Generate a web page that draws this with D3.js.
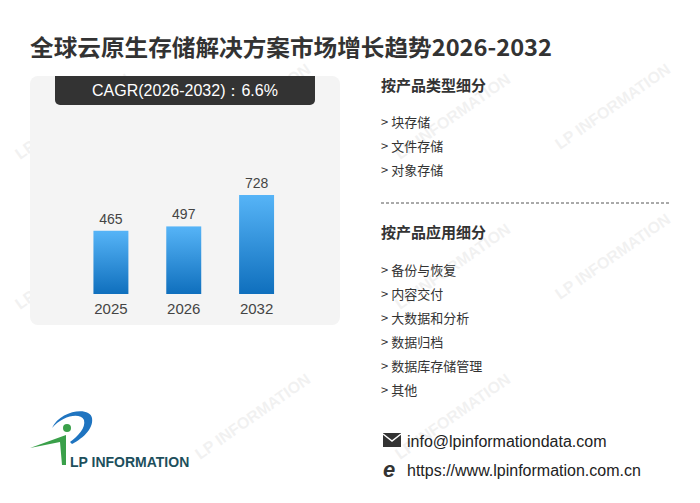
<!DOCTYPE html>
<html><head><meta charset="utf-8">
<script src="https://cdn.jsdelivr.net/npm/d3@7"></script>
<style>body{margin:0;background:#fff;font-family:"Noto Sans CJK SC","Noto Sans",sans-serif}</style>
</head><body><svg id="c" width="700" height="503"></svg>
<script>
const years=["2025","2026","2032"];
const values=[465,497,728];
const typeItems=["块存储","文件存储","对象存储"];
const appItems=["备份与恢复","内容交付","大数据和分析","数据归档","数据库存储管理","其他"];
const svg=d3.select("#c");
const defs=svg.append("defs");
const g=defs.append("linearGradient").attr("id","bg").attr("x1",0).attr("x2",0).attr("y1",0).attr("y2",1);
g.append("stop").attr("offset","0").attr("stop-color","#56b4f7");
g.append("stop").attr("offset","1").attr("stop-color","#0f6fbd");
const wm=[[20,160],[200,150],[400,160],[560,150],[20,310],[200,300],[400,310],[560,300],[200,460],[400,460]];
wm.forEach(([x,y])=>svg.append("text").attr("transform",`translate(${x},${y}) rotate(-35)`).attr("fill","#000").attr("opacity",0.05).attr("font-size",16).attr("font-weight","bold").attr("font-family","Arial").text("LP INFORMATION"));
svg.append("text").attr("x",30).attr("y",56).attr("font-size",23).attr("font-weight","bold").attr("fill","#333").attr("textLength",522).attr("lengthAdjust","spacingAndGlyphs").text("全球云原生存储解决方案市场增长趋势2026-2032");
svg.append("rect").attr("x",30).attr("y",76).attr("width",310).attr("height",249).attr("rx",8).attr("fill","#f4f4f4");
svg.append("path").attr("d","M55,76H315V100a5,5 0 0 1 -5,5H60a5,5 0 0 1 -5,-5Z").attr("fill","#333");
svg.append("text").attr("x",185).attr("y",96).attr("text-anchor","middle").attr("fill","#fff").attr("font-size",16).attr("font-family","Arial").text("CAGR(2026-2032)：6.6%");
const x=d3.scaleBand().domain(years).range([74.5,293]).paddingInner(0.52).paddingOuter(0.26);
const y=d3.scaleLinear().domain([0,728]).range([294,195]);
svg.selectAll(".b").data(values).join("rect").attr("x",(d,i)=>x(years[i])).attr("width",x.bandwidth()).attr("y",d=>y(d)).attr("height",d=>294-y(d)).attr("fill","url(#bg)");
svg.selectAll(".v").data(values).join("text").attr("x",(d,i)=>x(years[i])+x.bandwidth()/2).attr("y",d=>y(d)-7).attr("text-anchor","middle").attr("font-size",14).attr("font-family","Arial").attr("fill","#444").text(d=>d);
svg.selectAll(".yl").data(years).join("text").attr("x",d=>x(d)+x.bandwidth()/2).attr("y",314).attr("text-anchor","middle").attr("font-size",15).attr("font-family","Arial").attr("fill","#444").text(d=>d);
svg.append("text").attr("x",381).attr("y",91).attr("font-size",15).attr("font-weight","bold").attr("fill","#333").text("按产品类型细分");
typeItems.forEach((t,i)=>svg.append("text").attr("x",381).attr("y",127+i*24).attr("font-size",13).attr("fill","#333").text("> "+t));
svg.append("line").attr("x1",381).attr("x2",670).attr("y1",203).attr("y2",203).attr("stroke","#555").attr("stroke-dasharray","3,2");
svg.append("text").attr("x",381).attr("y",238).attr("font-size",15).attr("font-weight","bold").attr("fill","#333").text("按产品应用细分");
appItems.forEach((t,i)=>svg.append("text").attr("x",381).attr("y",275+i*24).attr("font-size",13).attr("fill","#333").text("> "+t));
svg.append("rect").attr("x",383).attr("y",433).attr("width",18).attr("height",14).attr("fill","#333");
svg.append("path").attr("d","M383,434L392,441L401,434").attr("stroke","#fff").attr("stroke-width",1.5).attr("fill","none");
svg.append("text").attr("x",407).attr("y",447).attr("font-size",16).attr("font-family","Arial").attr("fill","#222").text("info@lpinformationdata.com");
svg.append("text").attr("x",383).attr("y",477).attr("font-size",22).attr("font-style","italic").attr("font-weight","bold").attr("font-family","Arial").attr("fill","#333").text("e");
svg.append("text").attr("x",407).attr("y",476).attr("font-size",16).attr("font-family","Arial").attr("fill","#222").text("https://www.lpinformation.com.cn");
svg.append("path").attr("d","M52,428 C60,410 90,406 92,418 C94,430 80,440 72,444 L70,442 C78,436 86,428 84,420 C80,412 62,416 52,428Z").attr("fill","#1f74c0");
svg.append("circle").attr("cx",67).attr("cy",428).attr("r",4).attr("fill","#3aa04a");
svg.append("path").attr("d","M30,448 L66,435 L66,465 L62,465 L60,442Z").attr("fill","#3aa04a");
svg.append("text").attr("x",70).attr("y",467).attr("font-size",14).attr("font-weight","bold").attr("font-family","Arial").attr("fill","#1d4f5c").text("LP INFORMATION");
</script></body></html>
